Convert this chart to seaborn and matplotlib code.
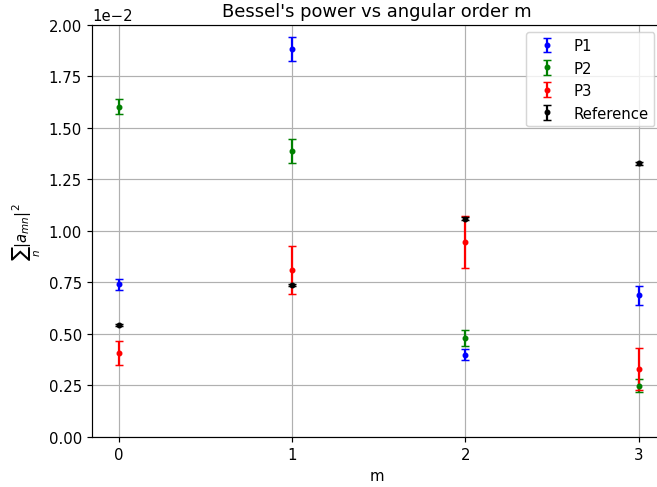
import matplotlib
matplotlib.use("Agg")
import matplotlib.pyplot as plt
import seaborn as sns
import numpy as np

m = [0, 1, 2, 3]
p1 = [0.740e-2, 1.883e-2, 0.399e-2, 0.688e-2]
p1_err = [0.026e-2, 0.059e-2, 0.028e-2, 0.046e-2]
p2 = [1.603e-2, 1.388e-2, 0.478e-2, 0.248e-2]
p2_err = [0.038e-2, 0.058e-2, 0.039e-2, 0.032e-2]
p3 = [0.407e-2, 0.808e-2, 0.946e-2, 0.329e-2]
p3_err = [0.057e-2, 0.117e-2, 0.127e-2, 0.103e-2]
ref = [0.542e-2, 0.736e-2, 1.059e-2, 1.327e-2]
ref_err = [0.006e-2, 0.006e-2, 0.006e-2, 0.006e-2]

plt.style.use("default")
plt.rcParams['font.family'] = ['DejaVu Sans']

DPI = 107
fig = plt.figure(figsize=(657 / DPI, 488 / DPI), dpi=DPI)
ax = fig.add_axes([0.1405, 0.103, 0.867, 0.844])

series = [("P1", p1, p1_err, "blue"), ("P2", p2, p2_err, "green"),
          ("P3", p3, p3_err, "red"), ("Reference", ref, ref_err, "black")]
for name, vals, errs, col in series:
    ax.errorbar(m, vals, yerr=errs, fmt='.', color=col, capsize=3, label=name)

ax.set_xlim(-0.152, 3.133)
ax.set_ylim(0, 0.02)
ax.set_xticks(m)
ax.ticklabel_format(axis='y', style='sci', scilimits=(0, 0))
ax.grid(True)
ax.set_xlabel("m")
ax.set_ylabel(r"$\sum_n |a_{mn}|^2$")
ax.set_title("Bessel's power vs angular order m")
ax.legend(loc="upper right")
sns.despine(ax=ax, top=False, right=False)

fig.savefig("out.png", dpi=DPI)
